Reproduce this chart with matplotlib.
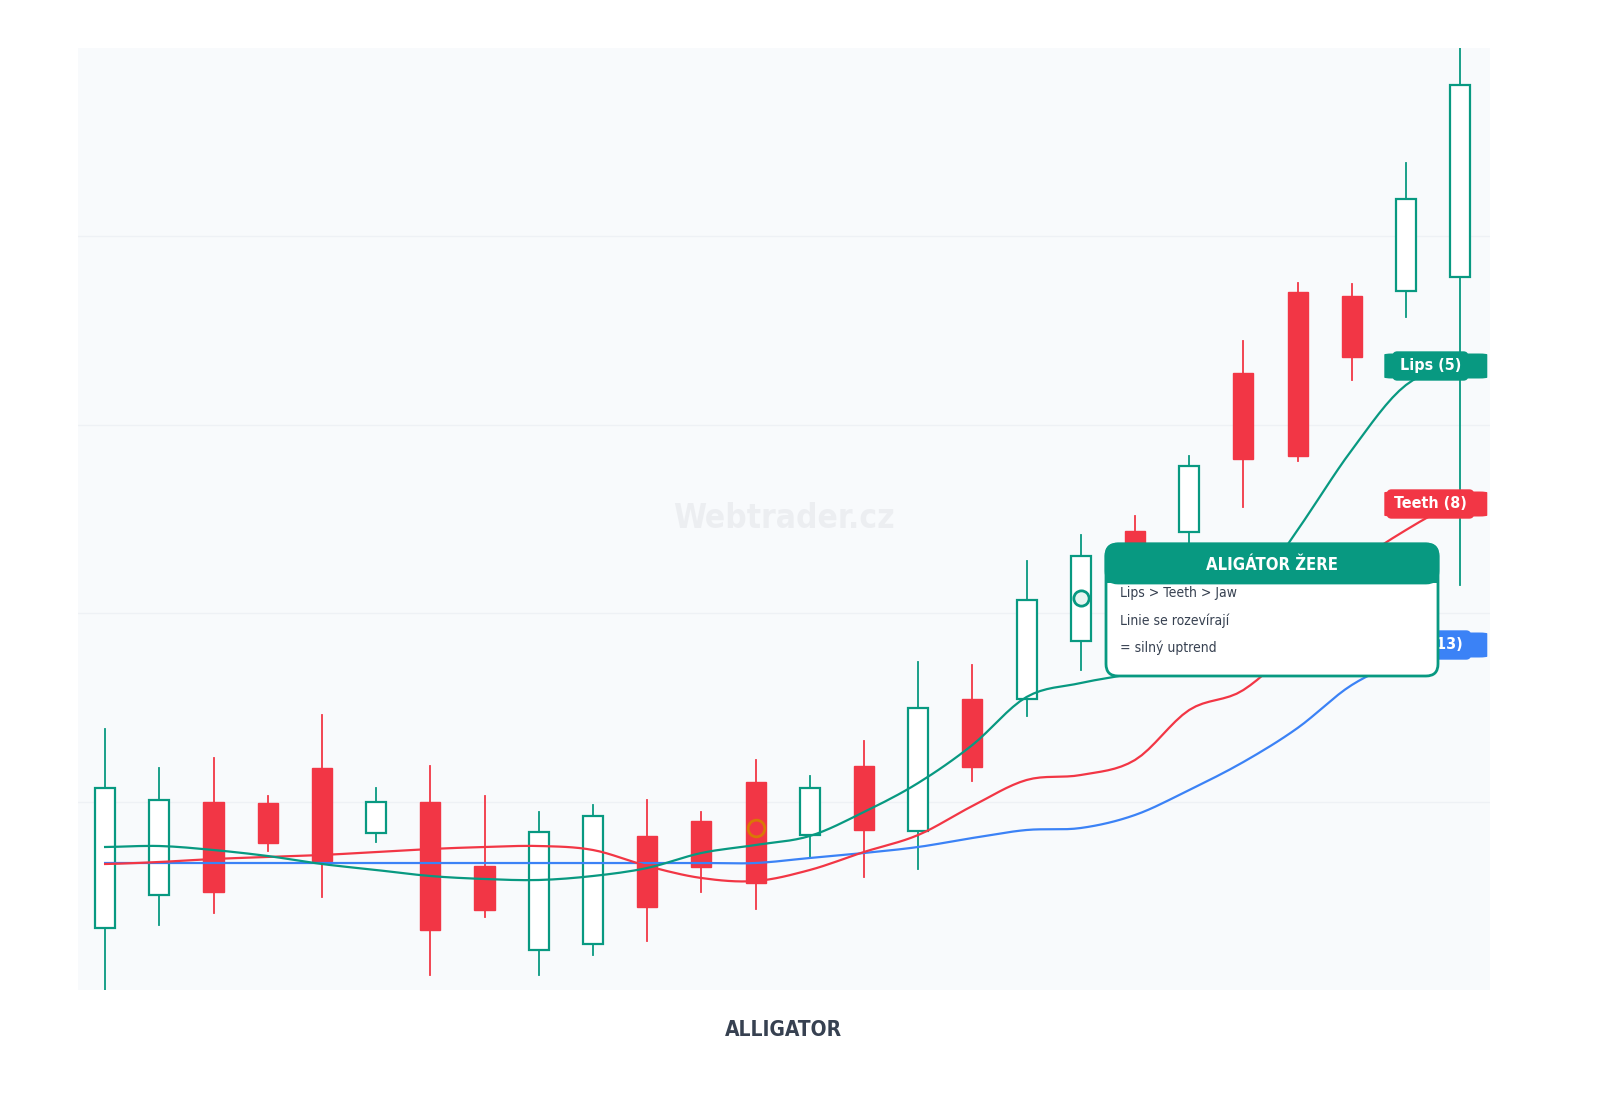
import numpy as np
import matplotlib.pyplot as plt
from matplotlib.patches import FancyBboxPatch, Rectangle

plt.rcParams['font.family'] = ['DejaVu Sans']
plt.rcParams['font.stretch'] = 'condensed'

# candles: open, high, low, close
opens = [106.2, 109.5, 118.8, 118.7, 122.2, 115.7, 118.8, 112.4, 104.0, 104.6, 115.4, 116.9, 120.8,
         115.5, 122.4, 115.9, 129.1, 129.1, 134.9, 145.9, 145.8, 161.7, 169.8, 169.4, 169.9, 171.3]
highs = [126.1, 122.2, 123.2, 119.4, 127.5, 120.2, 122.4, 119.4, 117.8, 118.5, 119.0, 117.8, 123.0,
         121.4, 124.9, 132.8, 132.5, 142.9, 145.5, 147.4, 153.4, 164.9, 170.7, 170.6, 182.7, 194.2]
lows = [100.0, 106.5, 107.7, 113.9, 109.3, 114.8, 101.5, 107.3, 101.5, 103.5, 104.9, 109.8, 108.1,
        113.2, 111.3, 112.1, 120.9, 127.4, 132.0, 140.0, 144.5, 148.3, 152.9, 161.0, 167.3, 140.5]
closes = [120.2, 119.0, 109.8, 114.7, 112.9, 118.8, 106.0, 108.0, 115.8, 117.4, 108.3, 112.3, 110.7,
          120.2, 116.0, 128.2, 122.3, 139.0, 143.4, 141.5, 152.4, 153.1, 153.4, 163.3, 179.1, 190.5]

lips = [114.3, 114.4, 114.0, 113.4, 112.6, 112.0, 111.4, 111.1, 111.0, 111.4, 112.2, 113.7, 114.5,
        115.4, 117.8, 120.7, 124.5, 129.3, 130.7, 131.8, 134.0, 138.5, 146.0, 154.0, 160.5, 162.4]
teeth = [112.6, 112.8, 113.1, 113.3, 113.5, 113.8, 114.1, 114.3, 114.4, 114.0, 112.4, 111.2, 110.9,
         112.0, 113.8, 115.5, 118.4, 121.0, 121.5, 123.0, 128.0, 130.0, 135.0, 142.0, 146.0, 148.6]
jaw = [112.7] * 13 + [113.2, 113.7, 114.3, 115.2, 116.0, 116.2, 117.5, 120.0, 122.8, 126.2,
                      130.5, 133.0, 134.5]

GREEN = '#089981'
RED = '#f23645'
BLUE = '#3b82f6'


def smooth(y, k=8):
    # Catmull-Rom curve through the points, for display only
    y = np.asarray(y, float)
    p = np.concatenate([[y[0]], y, [y[-1]]])
    xs, ys = [], []
    for i in range(len(y) - 1):
        t = np.linspace(0, 1, k, endpoint=False)
        p0, p1, p2, p3 = p[i], p[i + 1], p[i + 2], p[i + 3]
        ys.append(0.5 * (2 * p1 + (-p0 + p2) * t + (2 * p0 - 5 * p1 + 4 * p2 - p3) * t ** 2
                         + (-p0 + 3 * p1 - 3 * p2 + p3) * t ** 3))
        xs.append(i + t)
    return np.append(np.concatenate(xs), len(y) - 1), np.append(np.concatenate(ys), y[-1])


fig = plt.figure(figsize=(16, 11), dpi=100)
ax = fig.add_axes([78 / 1600, 110 / 1100, 1412 / 1600, 942 / 1100])
ax.set_facecolor('#f8fafc')
for s in ax.spines.values():
    s.set_visible(False)
ax.set_xlim(-0.5, 25.55)
ax.set_ylim(100, 194.2)
ax.set_xticks([])
ax.set_yticks(np.linspace(100, 194.2, 6)[1:-1])
ax.set_yticklabels([])
ax.tick_params(length=0)
ax.grid(axis='y', color='#eef1f5', lw=1)

w = 0.37
for i, (o, h, l, c) in enumerate(zip(opens, highs, lows, closes)):
    if c >= o:
        ax.plot([i, i], [l, o], color=GREEN, lw=1.3, zorder=2)
        ax.plot([i, i], [c, h], color=GREEN, lw=1.3, zorder=2)
        ax.add_patch(Rectangle((i - w / 2, o), w, c - o, facecolor='white', edgecolor=GREEN, lw=1.6, zorder=3))
    else:
        ax.plot([i, i], [l, h], color=RED, lw=1.3, zorder=2)
        ax.add_patch(Rectangle((i - w / 2, c), w, o - c, facecolor=RED, edgecolor=RED, lw=1, zorder=3))

for vals, col in [(jaw, BLUE), (teeth, RED), (lips, GREEN)]:
    xs, ys = smooth(vals)
    ax.plot(xs, ys, color=col, lw=1.6, zorder=4)

for vals, col, txt in [(lips, GREEN, 'Lips (5)'), (teeth, RED, 'Teeth (8)'), (jaw, BLUE, 'Jaw (13)')]:
    ax.text(24.45, vals[-1], txt, ha='center', va='center', color='white', fontsize=11.5, fontweight='bold', zorder=6,
            bbox=dict(boxstyle='round,pad=0.45,rounding_size=0.3', fc=col, ec='none'))
    ax.add_patch(FancyBboxPatch((23.6, vals[-1] - 1.25), 1.9, 2.5, boxstyle='round,pad=0,rounding_size=0.15',
                                mutation_aspect=2.5 / 1.9 / 2, fc=col, ec='none', zorder=5.5))

ax.plot(18, 139.2, 'o', ms=11, mfc='#e8f5f1', mec=GREEN, mew=2, zorder=5)
ax.plot(12, 116.2, 'o', ms=12, mfc='none', mec='#d97706', mew=2, zorder=5)

ax.text(0.5, 0.5, 'Webtrader.cz', transform=ax.transAxes, ha='center', va='center', fontsize=24,
        fontweight='bold', color='#e5e7eb', alpha=0.6, zorder=1)

# annotation box (display pixels)
H = 1100
box = FancyBboxPatch((1106, H - 676), 332, 132, boxstyle='round,pad=0,rounding_size=12',
                     fc='white', ec=GREEN, lw=2, transform=None, zorder=10)
fig.patches.append(box)
head = FancyBboxPatch((1106, H - 583), 332, 39, boxstyle='round,pad=0,rounding_size=12',
                      fc=GREEN, ec=GREEN, lw=2, transform=None, zorder=11)
fig.patches.append(head)
fig.patches.append(Rectangle((1107, H - 583), 330, 14, fc=GREEN, ec='none', transform=None, zorder=11))
fig.text(1272 / 1600, 1 - 565 / H, 'ALIGÁTOR ŽERE', ha='center', va='center', color='white',
         fontsize=12, fontweight='bold', zorder=12)
for yy, t in [(593, 'Lips > Teeth > Jaw'), (621, 'Linie se rozevírají'), (648, '= silný uptrend')]:
    fig.text(1120 / 1600, 1 - yy / H, t, ha='left', va='center', color='#374151', fontsize=10, zorder=12)

fig.text(783 / 1600, 1 - 1030 / H, 'ALLIGATOR', ha='center', va='center', color='#374151',
         fontsize=15, fontweight='bold')

fig.savefig('out.png', dpi=100, facecolor='white')
